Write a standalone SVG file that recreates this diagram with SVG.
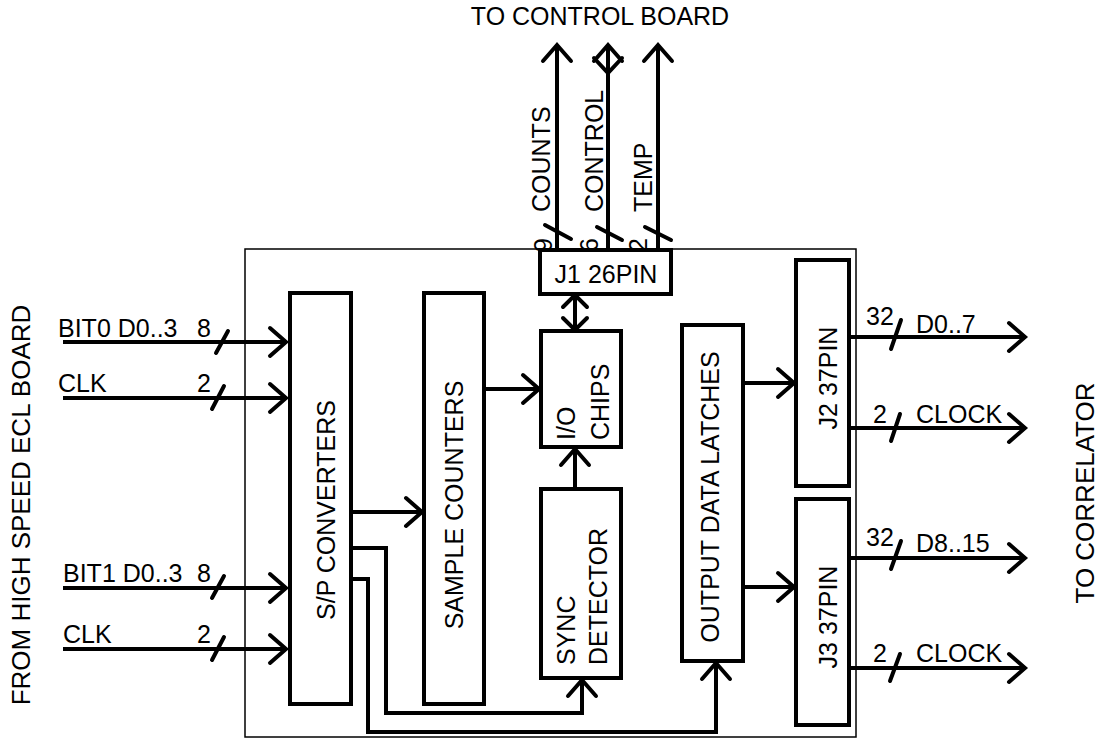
<svg xmlns="http://www.w3.org/2000/svg" width="1098" height="740" viewBox="0 0 1098 740">
<style>
text{font-family:"Liberation Sans",Arial,sans-serif;font-size:25px;fill:#000}
.box{fill:#fff;stroke:#000;stroke-width:4}
.board{fill:none;stroke:#000;stroke-width:1.5}
.w{fill:none;stroke:#000;stroke-width:4;stroke-linejoin:miter}
.sl{stroke:#000;stroke-width:4;stroke-linecap:round}
.m{text-anchor:middle}
</style>
<defs>
<marker id="a" viewBox="-20 -20 40 40" markerWidth="40" markerHeight="40" markerUnits="userSpaceOnUse" refX="0" refY="0" orient="auto-start-reverse" overflow="visible">
<path d="M-16,-14 L0,0 L-16,14" fill="none" stroke="#000" stroke-width="4" stroke-linecap="round"/>
</marker>
</defs>
<rect width="1098" height="740" fill="#fff"/>

<g id="labels">
<text class="m" x="600" y="25">TO CONTROL BOARD</text>
<text class="m" style="font-size:26px" transform="translate(30,505) rotate(-90)">FROM HIGH SPEED ECL BOARD</text>
<text class="m" style="font-size:26px" transform="translate(1094,493) rotate(-90)">TO CORRELATOR</text>
</g>

<g id="board"><rect class="board" x="245" y="249" width="611" height="488"/></g>

<g id="connectors">
<!-- top -->
<line class="w" x1="557" y1="250" x2="557" y2="45" marker-end="url(#a)"/>
<line class="w" x1="608" y1="250" x2="608" y2="45" marker-end="url(#a)"/>
<polyline class="w" points="594,58 608,73 622,58" stroke-linecap="round"/>
<line class="w" x1="658" y1="250" x2="658" y2="45" marker-end="url(#a)"/>
<line class="sl" x1="545" y1="225" x2="571" y2="239"/>
<line class="sl" x1="597" y1="227" x2="622" y2="240"/>
<line class="sl" x1="645" y1="227" x2="671" y2="240"/>
<text transform="translate(550,212) rotate(-90)">COUNTS</text>
<text transform="translate(603,212) rotate(-90)">CONTROL</text>
<text transform="translate(652,212) rotate(-90)">TEMP</text>
<text transform="translate(552,252) rotate(-90)">9</text>
<text transform="translate(598,252) rotate(-90)">6</text>
<text transform="translate(647,252) rotate(-90)">2</text>

<!-- left inputs -->
<line class="w" x1="63" y1="342" x2="286" y2="342" marker-end="url(#a)"/>
<line class="w" x1="63" y1="398" x2="286" y2="398" marker-end="url(#a)"/>
<line class="w" x1="63" y1="588" x2="286" y2="588" marker-end="url(#a)"/>
<line class="w" x1="63" y1="649" x2="286" y2="649" marker-end="url(#a)"/>
<line class="sl" x1="216" y1="353" x2="228" y2="331"/>
<line class="sl" x1="212" y1="409" x2="224" y2="386"/>
<line class="sl" x1="212" y1="598" x2="224" y2="576"/>
<line class="sl" x1="212" y1="660" x2="224" y2="637"/>
<text x="58" y="337">BIT0 D0..3</text>
<text x="197" y="337">8</text>
<text x="58" y="392">CLK</text>
<text x="197" y="392">2</text>
<text x="63" y="582">BIT1 D0..3</text>
<text x="197" y="582">8</text>
<text x="63" y="643">CLK</text>
<text x="197" y="643">2</text>

<!-- internal -->
<line class="w" x1="351" y1="512" x2="422" y2="512" marker-end="url(#a)" stroke-linecap="round"/>
<polyline class="w" points="351,548 386,548 386,713 582,713 582,680" marker-end="url(#a)" stroke-linecap="round"/>
<polyline class="w" points="351,579 368,579 368,732 716,732 716,663" marker-end="url(#a)" stroke-linecap="round"/>
<line class="w" x1="484" y1="389" x2="539" y2="389" marker-end="url(#a)" stroke-linecap="round"/>
<line class="w" x1="575" y1="489" x2="575" y2="449" marker-end="url(#a)"/>
<line class="w" x1="575" y1="296" x2="575" y2="329"/>
<polyline class="w" points="563,307 575,295 587,307" stroke-linecap="round"/>
<polyline class="w" points="563,318 575,330 587,318" stroke-linecap="round"/>
<line class="w" x1="743" y1="383" x2="794" y2="383" marker-end="url(#a)" stroke-linecap="round"/>
<line class="w" x1="743" y1="587" x2="794" y2="587" marker-end="url(#a)" stroke-linecap="round"/>

<!-- right outputs -->
<line class="w" x1="851" y1="337" x2="1025" y2="337" marker-end="url(#a)"/>
<line class="w" x1="851" y1="428" x2="1025" y2="428" marker-end="url(#a)"/>
<line class="w" x1="851" y1="558" x2="1025" y2="558" marker-end="url(#a)"/>
<line class="w" x1="851" y1="668" x2="1025" y2="668" marker-end="url(#a)"/>
<line class="sl" x1="891" y1="349" x2="901" y2="320"/>
<line class="sl" x1="891" y1="441" x2="900" y2="414"/>
<line class="sl" x1="891" y1="569" x2="901" y2="541"/>
<line class="sl" x1="890" y1="681" x2="900" y2="654"/>
<text x="866" y="325">32</text>
<text x="916" y="333">D0..7</text>
<text x="873" y="423">2</text>
<text x="916" y="423">CLOCK</text>
<text x="866" y="546">32</text>
<text x="916" y="552">D8..15</text>
<text x="873" y="662">2</text>
<text x="916" y="662">CLOCK</text>
</g>

<g id="j1"><rect class="box" x="540" y="250" width="131" height="44" stroke-width="3"/><text class="m" x="606" y="283">J1 26PIN</text></g>
<g id="sp"><rect class="box" x="290" y="293" width="61" height="411"/><text class="m" transform="translate(335,510) rotate(-90)">S/P CONVERTERS</text></g>
<g id="sample"><rect class="box" x="424" y="293" width="60" height="411"/><text class="m" transform="translate(463,505) rotate(-90)">SAMPLE COUNTERS</text></g>
<g id="io"><rect class="box" x="541" y="331" width="80" height="116"/><text transform="translate(575,440) rotate(-90)">I/O</text><text transform="translate(609,440) rotate(-90)">CHIPS</text></g>
<g id="sync"><rect class="box" x="541" y="489" width="80" height="189"/><text transform="translate(575,665) rotate(-90)">SYNC</text><text transform="translate(607,665) rotate(-90)">DETECTOR</text></g>
<g id="latches"><rect class="box" x="682" y="325" width="61" height="336"/><text class="m" transform="translate(719,497) rotate(-90)">OUTPUT DATA LATCHES</text></g>
<g id="j2"><rect class="box" x="796" y="260" width="53" height="226"/><text class="m" transform="translate(837,378) rotate(-90)">J2 37PIN</text></g>
<g id="j3"><rect class="box" x="796" y="499" width="53" height="226"/><text class="m" transform="translate(837,617) rotate(-90)">J3 37PIN</text></g>
</svg>
